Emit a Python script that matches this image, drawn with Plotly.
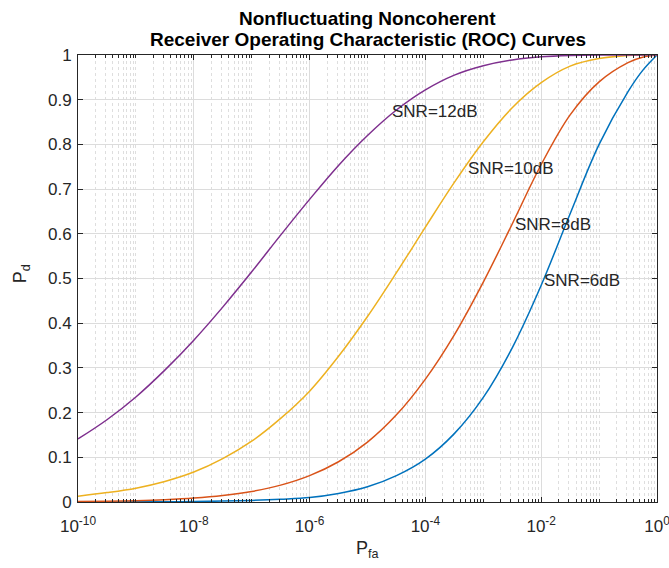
import math
import plotly.graph_objects as go

# ---- data ----
pfa = [1e-10, 3.16e-10, 1e-9, 3.16e-9, 1e-8, 3.16e-8, 1e-7, 3.16e-7, 1e-6, 3.16e-6,
       1e-5, 3.16e-5, 1e-4, 3.16e-4, 1e-3, 3.16e-3, 1e-2, 3.16e-2, 1e-1, 3.16e-1, 5.62e-1, 1.0]

pd_6db = [0.0001, 0.00015, 0.0003, 0.0006, 0.0011, 0.002, 0.0036, 0.0062, 0.010, 0.019,
          0.034, 0.059, 0.096, 0.153, 0.234, 0.345, 0.485, 0.645, 0.800, 0.918, 0.965, 1.0]
pd_8db = [0.001, 0.0017, 0.003, 0.0052, 0.0087, 0.0145, 0.0236, 0.0377, 0.059, 0.090,
          0.134, 0.195, 0.275, 0.374, 0.492, 0.622, 0.755, 0.866, 0.940, 0.983, 0.995, 1.0]
pd_10db = [0.013, 0.021, 0.031, 0.046, 0.067, 0.097, 0.136, 0.187, 0.248, 0.326,
           0.415, 0.513, 0.615, 0.715, 0.806, 0.882, 0.938, 0.975, 0.992, 0.999, 1.0, 1.0]
pd_12db = [0.141, 0.184, 0.235, 0.295, 0.362, 0.436, 0.515, 0.597, 0.677, 0.753,
           0.820, 0.877, 0.922, 0.955, 0.976, 0.989, 0.996, 0.999, 1.0, 1.0, 1.0, 1.0]

series_names = ["SNR=6dB", "SNR=8dB", "SNR=10dB", "SNR=12dB"]
series_values = [pd_6db, pd_8db, pd_10db, pd_12db]
series_colors = ["#0072BD", "#D95319", "#EDB120", "#7E2F8E"]

# label anchor positions (Pfa, Pd)
label_x = [1.02e-2, 3.3e-3, 5.1e-4, 2.45e-5]
label_y = [0.496, 0.621, 0.746, 0.874]

title_lines = ["Nonfluctuating Noncoherent", "Receiver Operating Characteristic (ROC) Curves"]
x_label = "P<sub>fa</sub>"
y_label = "P<sub>d</sub>"

xtick_vals = [1e-10, 1e-8, 1e-6, 1e-4, 1e-2, 1]
xtick_text = ["10<sup>-10</sup>", "10<sup>-8</sup>", "10<sup>-6</sup>",
              "10<sup>-4</sup>", "10<sup>-2</sup>", "10<sup>0</sup>"]

minor_vals = []
for e in range(-10, 0):
    for m in range(1, 10):
        v = m * 10.0 ** e
        if v not in xtick_vals:
            minor_vals.append(v)

FONT = "Liberation Sans, Arial, Helvetica, sans-serif"
AX = "#262626"

fig = go.Figure()
for name, vals, col in zip(series_names, series_values, series_colors):
    fig.add_trace(go.Scatter(x=pfa, y=vals, mode="lines", name=name,
                             line=dict(color=col, width=1.5, shape="spline", smoothing=1.0),
                             showlegend=False, cliponaxis=True))

for name, lx, ly in zip(series_names, label_x, label_y):
    fig.add_annotation(x=math.log10(lx), y=ly, xref="x", yref="y", text=name, showarrow=False,
                       xanchor="left", yanchor="middle",
                       font=dict(family=FONT, size=17, color=AX))

# title lines
for txt, yy in zip(title_lines, [1.0817, 1.0347]):
    fig.add_annotation(x=0.5, y=yy, xref="paper", yref="paper", text="<b>" + txt + "</b>",
                       showarrow=False, xanchor="center", yanchor="middle",
                       font=dict(family=FONT, size=19, color="black"))

# axis labels
fig.add_annotation(x=0.5, y=-0.107, xref="paper", yref="paper", text=x_label, showarrow=False,
                   xanchor="center", yanchor="middle", font=dict(family=FONT, size=18, color=AX))
fig.add_annotation(x=-0.098, y=0.51, xref="paper", yref="paper", text=y_label, showarrow=False,
                   textangle=-90, xanchor="center", yanchor="middle",
                   font=dict(family=FONT, size=18, color=AX))

fig.update_layout(
    width=669, height=568,
    margin=dict(l=78, r=12, t=55, b=66),
    paper_bgcolor="white", plot_bgcolor="white",
    font=dict(family=FONT, size=17, color=AX),
)

fig.update_xaxes(
    type="log", range=[-10, 0], automargin=False,
    tickvals=xtick_vals, ticktext=xtick_text,
    ticks="inside", ticklen=5, tickcolor=AX, ticklabelstandoff=9,
    ticklabeloverflow="allow",
    showline=True, linecolor=AX, linewidth=1, mirror="allticks",
    showgrid=True, gridcolor="#dcdcdc", gridwidth=1,
    zeroline=False,
    tickfont=dict(family=FONT, size=17, color=AX),
    minor=dict(tickvals=minor_vals, ticks="inside", ticklen=3, tickcolor=AX,
               showgrid=True, gridcolor="#dedede", griddash="dot", gridwidth=1),
)
fig.update_yaxes(
    range=[0, 1], dtick=0.1, tick0=0, automargin=False,
    ticks="inside", ticklen=5, tickcolor=AX, ticklabelstandoff=2,
    ticklabeloverflow="allow",
    showline=True, linecolor=AX, linewidth=1, mirror="allticks",
    showgrid=True, gridcolor="#dcdcdc", gridwidth=1,
    zeroline=False,
    tickfont=dict(family=FONT, size=17, color=AX),
)

fig.write_html("out.html")
